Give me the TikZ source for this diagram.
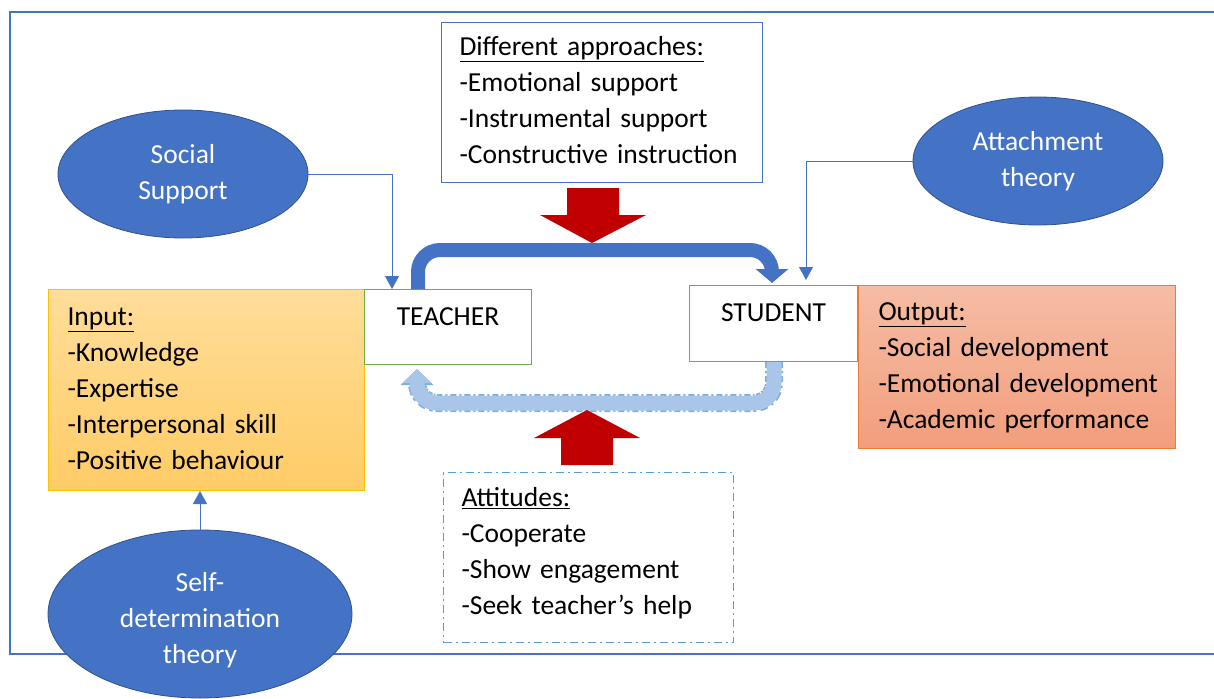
\documentclass[tikz,border=0pt]{standalone}
\usepackage{fontspec}
\setmainfont{Carlito}
\usetikzlibrary{arrows.meta,shapes.geometric,calc}
\definecolor{bblue}{HTML}{4472C4}
\definecolor{dblue}{HTML}{2F528F}
\definecolor{lblue}{HTML}{A9C5E8}
\definecolor{mblue}{HTML}{5B9BD5}
\definecolor{dred}{HTML}{C00000}
\definecolor{gborder}{HTML}{70AD47}
\definecolor{yborder}{HTML}{FFC000}
\definecolor{ytop}{HTML}{FFDD99}
\definecolor{ybot}{HTML}{FFCC66}
\definecolor{oborder}{HTML}{ED7D31}
\definecolor{otop}{HTML}{F5BDA5}
\definecolor{obot}{HTML}{F29E7C}
\newcommand{\bigfont}{\fontsize{27.5}{36}\selectfont}
\newcommand{\listlines}[1]{\begin{tabular}{@{}l@{}}#1\end{tabular}}
\begin{document}
\begin{tikzpicture}[x=1pt,y=-1pt,
  theory/.style={ellipse, fill=bblue, draw=dblue, line width=0.8pt, text=white, align=center, inner sep=0pt, font=\bigfont},
  listbox/.style={rectangle, anchor=north west, align=left, inner xsep=19pt, inner ysep=0pt, font=\bigfont, text=black},
  agent/.style={rectangle, anchor=north west, draw=gborder, line width=1pt, fill=white, inner sep=0pt, font=\bigfont, text=black},
  link/.style={draw=bblue, line width=1pt, -{Triangle[width=14pt,length=13pt]}},
  redarrow/.style={fill=dred},
]
\useasboundingbox (0,0) rectangle (1214,698);
% outer frame
\draw[bblue, line width=1.2pt] (1220,12) -- (10,12) -- (10,654) -- (1220,654);

% boxes
\node[listbox, draw=bblue, line width=1pt, minimum width=321pt, minimum height=160pt, text width=285pt, inner xsep=18pt] (approach) at (441,22)
  {\listlines{\underline{Different approaches:}\\-Emotional support\\-Instrumental support\\-Constructive instruction}};
\node[listbox, draw=yborder, line width=1pt, top color=ytop, bottom color=ybot, minimum width=316pt, minimum height=201pt, text width=278pt] (input) at (48,289)
  {\listlines{\underline{Input:}\\-Knowledge\\-Expertise\\-Interpersonal skill\\-Positive behaviour}};
\node[listbox, draw=oborder, line width=1pt, top color=otop, bottom color=obot, minimum width=317pt, minimum height=163pt, text width=277pt, inner xsep=20pt] (output) at (858,285)
  {\listlines{\underline{Output:}\\-Social development\\-Emotional development\\-Academic performance}};
\node[listbox, draw=mblue, line width=1pt, dash pattern=on 8pt off 4pt on 2pt off 4pt, minimum width=290pt, minimum height=170pt, text width=254pt, inner xsep=18pt] (attitude) at (443,472)
  {\raisebox{4pt}[\height][\depth]{\listlines{\underline{Attitudes:}\\-Cooperate\\-Show engagement\\-Seek teacher’s help}}};
\node[agent, minimum width=167pt, minimum height=75pt, text height=36pt, text depth=39pt] (teacher) at (364,289) {TEACHER};
\node[agent, minimum width=168pt, minimum height=76pt, text height=35.5pt, text depth=40.5pt] (student) at (689,285) {STUDENT};

% teacher -> student thick arrow
\draw[bblue, line width=14pt, rounded corners=22pt, -{Triangle[width=32pt,length=14pt]}]
  ([xshift=54pt]teacher.north west) -- ++(0,-39) -| ([xshift=83pt,yshift=2pt]student.north west);
% student -> teacher light dashed arrow
\draw[mblue!80, line width=18pt, dash pattern=on 6pt off 3pt on 2pt off 3pt, rounded corners=20pt, -{Triangle[width=32pt,length=16pt]}]
  ([xshift=85pt]student.south west) -- ++(0,41) -| ([xshift=53pt,yshift=-4pt]teacher.south west);
\draw[lblue, line width=15pt, rounded corners=20pt, -{Triangle[width=28pt,length=14pt]}]
  ([xshift=85pt]student.south west) -- ++(0,41) -| ([xshift=53pt,yshift=-4pt]teacher.south west);

% red block arrows
\fill[redarrow] (567,188) -- (619,188) -- (619,215) -- (646,215) -- (592,243) -- (540,215) -- (567,215) -- cycle;
\fill[redarrow] (561,465) -- (613,465) -- (613,438) -- (640,438) -- (587,410) -- (534,438) -- (561,438) -- cycle;

% theory ellipses
\node[theory, minimum width=250pt, minimum height=128pt] (social) at (183,174) {Social\\Support};
\node[theory, minimum width=250pt, minimum height=128pt] (attach) at (1038,161) {Attachment\\theory};
\node[theory, minimum width=304pt, minimum height=168pt] (selfdet) at (200,614)
  {\raisebox{-6pt}[\height][\depth]{\begin{tabular}{@{}c@{}}Self-\\determination\\theory\end{tabular}}};

% connectors
\draw[link] (social.east) -| ([xshift=28pt]teacher.north west);
\draw[link] (attach.west) -| ([xshift=117pt,yshift=5pt]student.north west);
\draw[link] (selfdet.north) -- (selfdet.north |- input.south);
\end{tikzpicture}
\end{document}
